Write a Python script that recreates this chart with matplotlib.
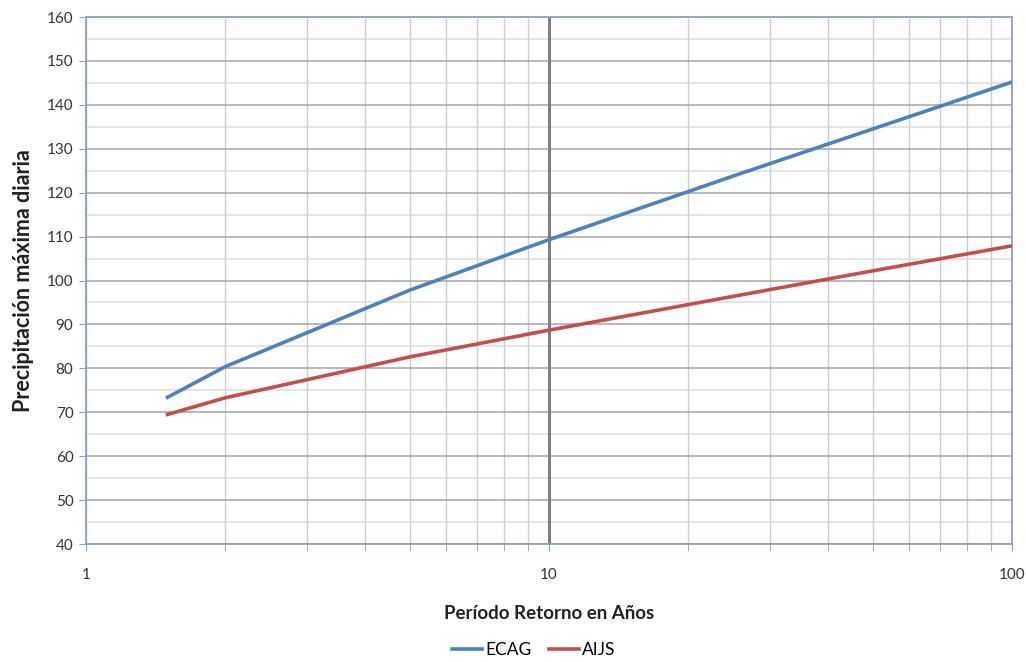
import matplotlib.pyplot as plt
from matplotlib.ticker import FixedLocator, NullFormatter, FixedFormatter

plt.rcParams['font.family'] = ['Lato', 'DejaVu Sans']

# Datos
periodo = [1.5, 2, 5, 10, 25, 50, 100]
ecag = [73.4, 80.4, 97.8, 109.3, 123.8, 134.5, 145.2]
aijs = [69.5, 73.3, 82.6, 88.7, 96.4, 102.2, 107.9]

azul = '#4f81bd'
rojo = '#c0504d'
borde = '#8ea2bd'

fig = plt.figure(figsize=(10.26, 6.62), dpi=100)
ax = fig.add_axes([0.0838, 0.1782, 0.9026, 0.7961])

ax.plot(periodo, ecag, color=azul, linewidth=2.6, label='ECAG', zorder=3)
ax.plot(periodo, aijs, color=rojo, linewidth=2.6, label='AIJS', zorder=3)

ax.set_xscale('log')
ax.set_xlim(1, 100)
ax.set_ylim(40, 160)

# ticks y
ax.set_yticks(range(40, 161, 10))
ax.set_yticks(range(45, 160, 10), minor=True)
# ticks x
ax.xaxis.set_major_locator(FixedLocator([1, 10, 100]))
ax.xaxis.set_major_formatter(FixedFormatter(['1', '10', '100']))
menores = [m * d for d in (1, 10) for m in range(2, 10)]
ax.xaxis.set_minor_locator(FixedLocator(menores))
ax.xaxis.set_minor_formatter(NullFormatter())

# cuadrícula
ax.grid(axis='y', which='major', color='#a6a6a6', linewidth=1.1, zorder=1)
ax.grid(axis='y', which='minor', color='#dcdcdc', linewidth=1.1, zorder=1)
ax.grid(axis='x', which='minor', color='#cccccc', linewidth=1.0, zorder=1)
ax.grid(axis='x', which='major', color='#bfbfbf', linewidth=1.0, zorder=1)
ax.axvline(10, color='#7f7f7f', linewidth=2.2, zorder=2)

for s in ax.spines.values():
    s.set_color(borde)
    s.set_linewidth(1.3)

ax.tick_params(axis='y', which='major', length=5, color=borde, labelsize=11,
               labelcolor='#333333', pad=4)
ax.tick_params(axis='y', which='minor', length=0)
ax.tick_params(axis='x', which='both', length=5, color=borde, labelsize=11,
               labelcolor='#333333', pad=12)

ax.set_xlabel('Período Retorno en Años', fontsize=13.5, fontweight='bold',
              color='#222222', labelpad=17)
ax.set_ylabel('Precipitación máxima diaria', fontsize=15.5, fontweight='bold',
              color='#222222', labelpad=9)

fig.legend(loc='center', bbox_to_anchor=(0.52, 0.018), ncol=2, frameon=False,
           fontsize=12.5, handlelength=1.75, handletextpad=0.15, columnspacing=1.0)

fig.savefig('out.png', dpi=100)
